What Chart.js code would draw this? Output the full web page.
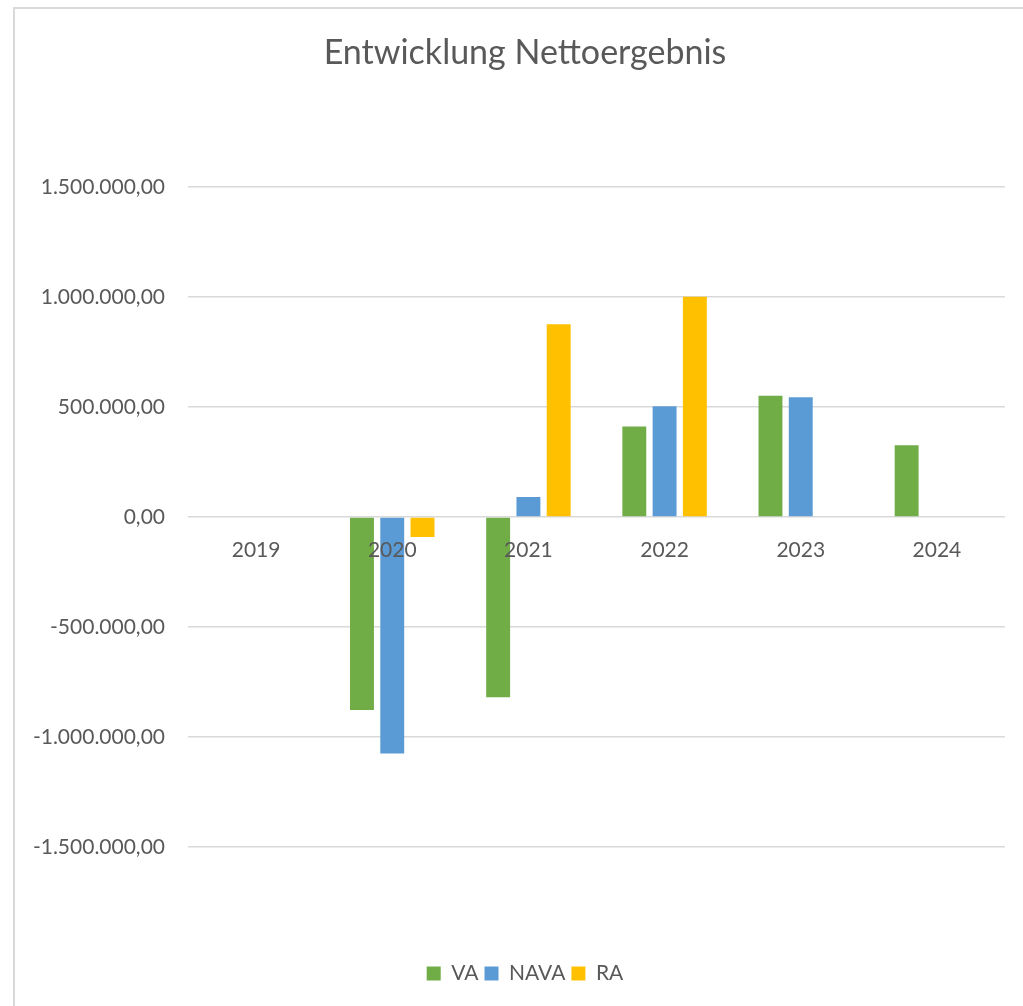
<!DOCTYPE html>
<html lang="de">
<head>
<meta charset="utf-8">
<title>Entwicklung Nettoergebnis</title>
<script src="https://cdn.jsdelivr.net/npm/chart.js@4/dist/chart.umd.min.js"></script>
<style>
  html, body { margin: 0; padding: 0; background: #fff; overflow: hidden; }
  #wrap { position: relative; width: 1060px; height: 1006px; }
  #frame {
    position: absolute; left: 13px; top: 7px; width: 2000px; height: 2000px;
    border-top: 2px solid #d9d9d9; border-left: 2px solid #d9d9d9;
    pointer-events: none;
  }
</style>
</head>
<body>
<div id="wrap">
  <canvas id="chart"></canvas>
  <div id="frame"></div>
</div>
<script>
// Werte
const years = ['2019', '2020', '2021', '2022', '2023', '2024'];
const seriesNames = ['VA', 'NAVA', 'RA'];
const vaValues = [null, -877000, -820000, 411000, 550000, 326000];
const navaValues = [null, -1075000, 91000, 503000, 544000, null];
const raValues = [null, -91000, 876000, 1000000, null, null];
const seriesColors = ['#70ad47', '#5b9bd5', '#ffc000'];

const axisMin = -2000000;
const axisMax = 2000000;
const axisStep = 500000;

// 1500000 -> "1.500.000,00"
function formatDe(v) {
  const neg = v < 0;
  const abs = Math.abs(Math.round(v));
  const grouped = String(abs).replace(/\B(?=(\d{3})+(?!\d))/g, '.');
  return (neg ? '-' : '') + grouped + ',00';
}

const textGray = '#595959';
const gridGray = '#d9d9d9';
const baseFont = 'Lato, "Open Sans", sans-serif';

const datasets = [vaValues, navaValues, raValues].map((vals, i) => ({
  label: seriesNames[i],
  data: vals,
  backgroundColor: seriesColors[i],
  borderWidth: 0,
  categoryPercentage: 0.667,
  barPercentage: 0.79
}));

new Chart(document.getElementById('chart'), {
  type: 'bar',
  data: { labels: years, datasets: datasets },
  options: {
    responsive: true,
    maintainAspectRatio: false,
    animation: false,
    // Canvas ist breiter als das Fenster, damit Titel und Legende wie im Original leicht rechts der Mitte sitzen
    layout: { padding: { left: 0, right: 10, top: 0, bottom: 12 } },
    plugins: {
      tooltip: { enabled: false },
      title: {
        display: true,
        text: 'Entwicklung Nettoergebnis',
        color: textGray,
        font: { family: baseFont, size: 34, weight: '400' },
        padding: { top: 33, bottom: 3 }
      },
      legend: {
        position: 'bottom',
        labels: {
          color: textGray,
          font: { family: baseFont, size: 21 },
          boxWidth: 14,
          boxHeight: 14,
          padding: 6
        }
      }
    },
    scales: {
      x: {
        position: { y: 0 },
        grid: { display: false, drawTicks: false },
        border: { display: false },
        ticks: {
          z: 1, // Jahreszahlen über den Balken wie im Original
          color: textGray,
          font: { family: baseFont, size: 21 },
          padding: 21,
          maxRotation: 0
        }
      },
      y: {
        min: axisMin,
        max: axisMax,
        afterFit(scale) { scale.width = 188; },
        grid: {
          drawTicks: false,
          lineWidth: 1.5,
          color: (ctx) => (ctx.tick && Math.abs(ctx.tick.value) === axisMax) ? 'rgba(0,0,0,0)' : gridGray
        },
        border: { display: false },
        ticks: {
          stepSize: axisStep,
          color: textGray,
          font: { family: baseFont, size: 21 },
          padding: 23,
          callback: (v) => Math.abs(v) === axisMax ? '' : formatDe(v)
        }
      },
      // leerer Platzhalter rechts, hält den Plotbereich bei x = 1005
      yPad: {
        type: 'linear',
        position: 'right',
        min: axisMin,
        max: axisMax,
        afterFit(scale) { scale.width = 45; },
        grid: { display: false, drawTicks: false },
        border: { display: false },
        ticks: { display: false }
      }
    }
  }
});
</script>
</body>
</html>
